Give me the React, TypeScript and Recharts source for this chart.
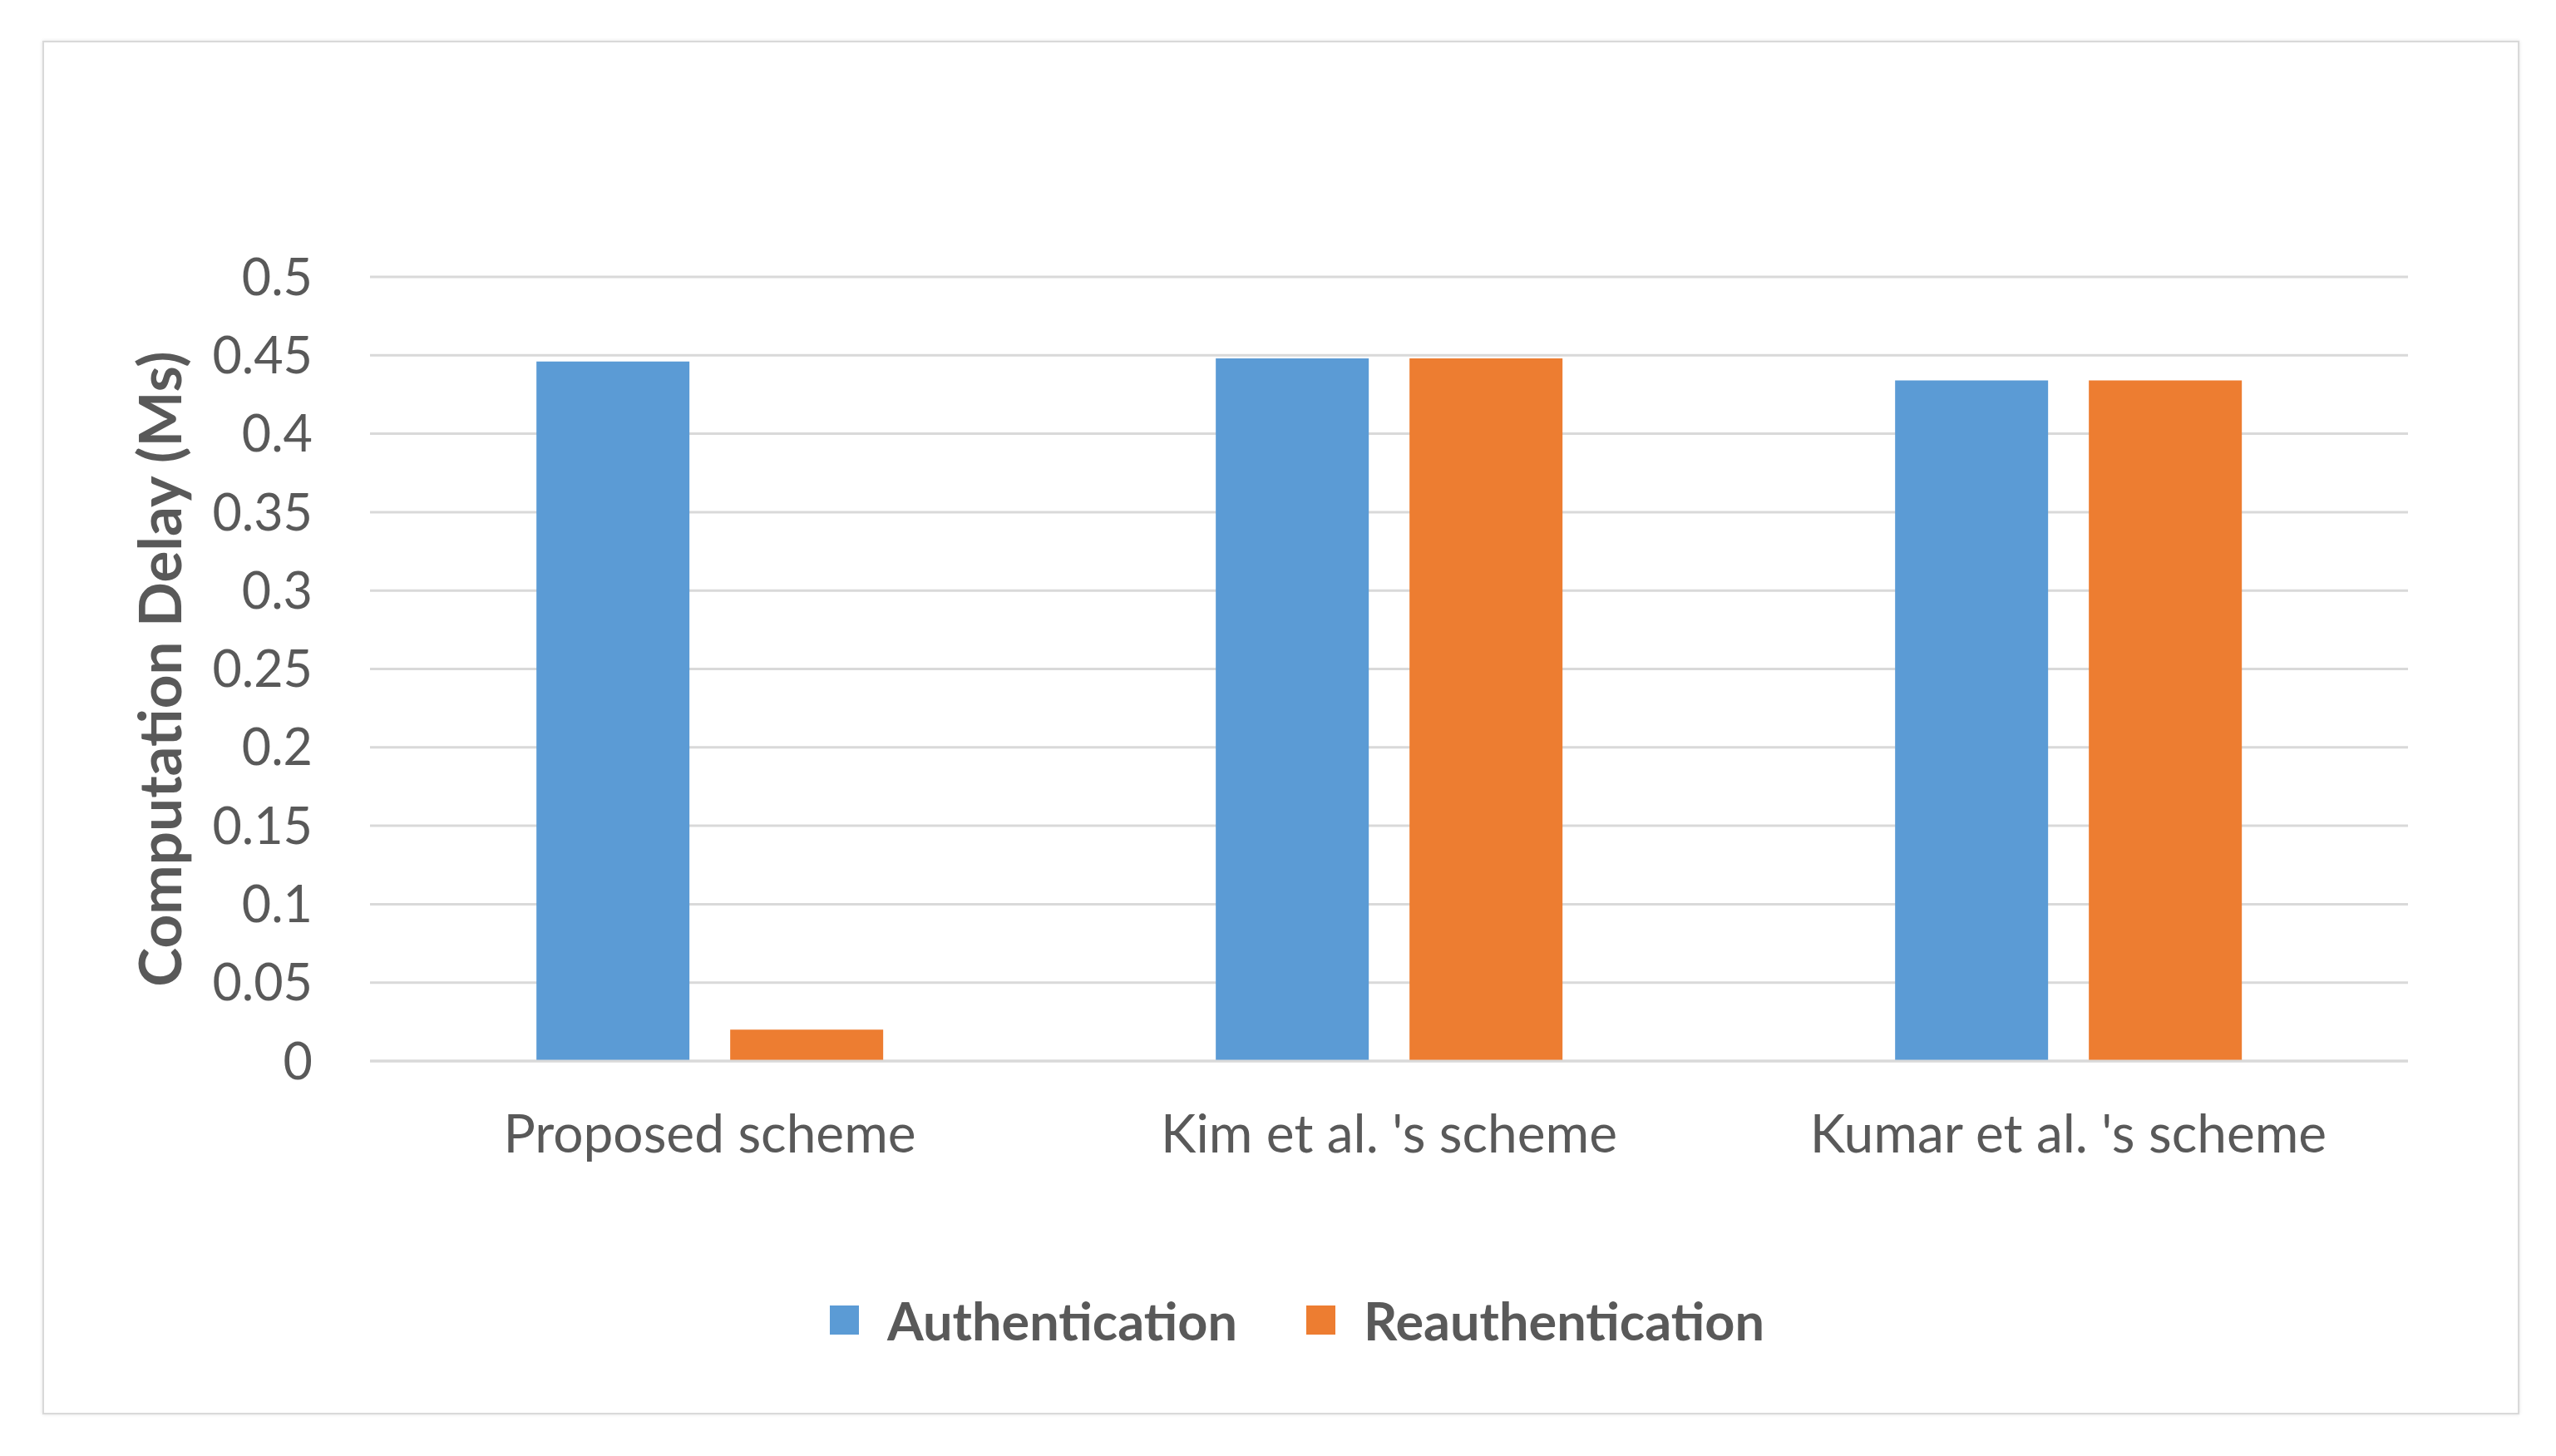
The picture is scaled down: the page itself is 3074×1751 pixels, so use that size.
import React from 'react';
import { BarChart, Bar, XAxis, YAxis, CartesianGrid, Legend } from 'recharts';

const categories = ['Proposed scheme', "Kim et al. 's scheme", "Kumar et al. 's scheme"];
const authentication = [0.446, 0.448, 0.434];
const reauthentication = [0.02, 0.448, 0.434];
const yTicks = [0, 0.05, 0.1, 0.15, 0.2, 0.25, 0.3, 0.35, 0.4, 0.45, 0.5];
const seriesNames = ['Authentication', 'Reauthentication'];
const seriesColors = ['#5B9BD5', '#ED7D31'];

const data = categories.map((c, i) => ({
  name: c,
  auth: authentication[i],
  reauth: reauthentication[i],
}));

const FONT = 'Lato, "Open Sans", sans-serif';
const TEXT = '#595959';

const LegendContent = (props: any) => {
  const payload = props.payload || [];
  return (
    <div style={{ display: 'flex', alignItems: 'center', justifyContent: 'center', fontFamily: FONT, fontWeight: 700, fontSize: 63, color: TEXT }}>
      {payload.map((p: any, i: number) => (
        <div key={i} style={{ display: 'flex', alignItems: 'center', marginLeft: i === 0 ? 0 : 83 }}>
          <div style={{ width: 35, height: 35, background: p.color, marginRight: 34 }} />
          <span style={{ lineHeight: 1 }}>{p.value}</span>
        </div>
      ))}
    </div>
  );
};

export default function App() {
  return (
    <div style={{ position: 'absolute', left: 0, top: 0, width: 3074, height: 1751, background: '#ffffff' }}>
      <div style={{ position: 'absolute', left: 51, top: 49, width: 2975, height: 1648, border: '2px solid #d9d9d9', boxShadow: '0 0 4px rgba(0,0,0,0.12)' }} />
      <div style={{ position: 'absolute', left: 0, top: 0 }}>
        <BarChart
          width={3074}
          height={1751}
          data={data}
          margin={{ top: 333, right: 178, bottom: 381, left: 0 }}
          barCategoryGap="24.5%"
          barGap={49}
        >
          <CartesianGrid vertical={false} stroke="#d9d9d9" strokeWidth={3} />
          <XAxis
            dataKey="name"
            axisLine={{ stroke: '#d9d9d9', strokeWidth: 3 }}
            tickLine={false}
            tickSize={0}
            tickMargin={65}
            tick={{ fill: TEXT, fontSize: 64, fontFamily: FONT }}
            interval={0}
          />
          <YAxis
            width={445}
            domain={[0, 0.5]}
            ticks={yTicks}
            axisLine={false}
            tickLine={false}
            tickSize={0}
            tickMargin={69}
            tick={{ fill: TEXT, fontSize: 61, fontFamily: FONT }}
            label={{ value: 'Computation Delay (Ms)', angle: -90, position: 'center', dx: -30, style: { fill: TEXT, fontSize: 71, fontWeight: 700, fontFamily: FONT } }}
          />
          <Legend
            content={<LegendContent />}
            wrapperStyle={{ position: 'absolute', left: 0, width: 3120, top: 1556, height: 64 }}
          />
          <Bar dataKey="auth" name={seriesNames[0]} fill={seriesColors[0]} isAnimationActive={false} />
          <Bar dataKey="reauth" name={seriesNames[1]} fill={seriesColors[1]} isAnimationActive={false} />
        </BarChart>
      </div>
    </div>
  );
}
